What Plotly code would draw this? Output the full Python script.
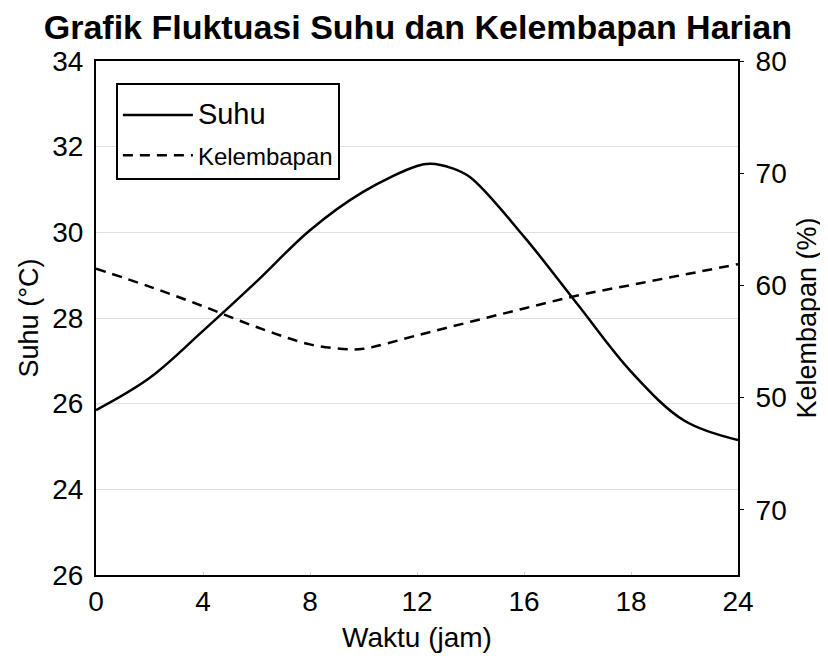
import plotly.graph_objects as go

# --- data ---
hours_suhu = [0, 2, 4, 6, 8, 10, 12, 12.5, 13.3, 14, 16, 18, 20, 22, 24]
suhu = [25.85, 26.6, 27.7, 28.85, 30.05, 30.95, 31.55, 31.6, 31.5, 31.28, 29.9, 28.32, 26.75, 25.6, 25.15]

hours_lembap = [0, 2, 4, 6, 8, 9.5, 10, 12, 14, 16, 18, 20, 22, 24]
lembap = [61.5, 59.9, 58.15, 56.3, 54.75, 54.3, 54.35, 55.55, 56.76, 57.95, 59.1, 60.04, 60.97, 61.9]

x_tickvals = [0, 4, 8, 12, 16, 20, 24]
x_ticktext = ["0", "4", "8", "12", "16", "18", "24"]
y1_tickvals = [34, 32, 30, 28, 26, 24, 22]
y1_ticktext = ["34", "32", "30", "28", "26", "24", "26"]
y2_tickvals = [80, 70, 60, 50, 40]
y2_ticktext = ["80", "70", "60", "50", "70"]

FONT = "Liberation Sans, Arial, sans-serif"

fig = go.Figure()
fig.add_trace(go.Scatter(
    x=hours_suhu, y=suhu, name="<span style='font-size:29px'>Suhu</span>", mode="lines",
    line=dict(color="black", width=2.5, shape="spline", smoothing=1.0),
    legendgroup="a",
))
fig.add_trace(go.Scatter(
    x=hours_lembap, y=lembap, name="Kelembapan", mode="lines", yaxis="y2",
    line=dict(color="black", width=2.5, dash="10px,7px", shape="spline", smoothing=1.0),
    legendgroup="b",
))

fig.update_layout(
    width=828, height=660,
    margin=dict(l=88, r=98, t=53, b=93),
    paper_bgcolor="white", plot_bgcolor="white",
    font=dict(family=FONT, color="black", size=24),
    title=dict(text="<b>Grafik Fluktuasi Suhu dan Kelembapan Harian</b>",
               x=0.495, xanchor="center", yref="container", y=0.971, yanchor="middle",
               font=dict(size=34, family=FONT, color="black")),
    xaxis=dict(range=[0, 24], tickvals=x_tickvals, ticktext=x_ticktext,
               showline=True, linecolor="black", linewidth=2, mirror=True,
               showgrid=False, zeroline=False, ticks="inside", ticklen=3,
               tickcolor="#cccccc",
               tickfont=dict(size=28),
               title=dict(text="Waktu (jam)", standoff=12, font=dict(size=28))),
    yaxis=dict(range=[22, 34], tickvals=y1_tickvals, ticktext=y1_ticktext,
               showline=True, linecolor="black", linewidth=2, mirror=True,
               showgrid=True, gridcolor="#e0e0e0", gridwidth=1, zeroline=False,
               ticks="", tickfont=dict(size=28), ticklabelstandoff=5,
               title=dict(text="Suhu (°C)", standoff=6, font=dict(size=27))),
    yaxis2=dict(range=[34.2, 80], tickvals=y2_tickvals, ticktext=y2_ticktext,
                overlaying="y", side="right", showgrid=False, zeroline=False,
                showline=True, linecolor="black", linewidth=2,
                ticks="outside", ticklen=4, tickcolor="black",
                tickfont=dict(size=28), ticklabelstandoff=6,
                title=dict(text="Kelembapan (%)", standoff=11, font=dict(size=27))),
    legend=dict(x=0.031, y=0.957, xanchor="left", yanchor="top",
                bgcolor="white", bordercolor="black", borderwidth=2,
                traceorder="grouped", tracegroupgap=6,
                title=dict(text=" ", font=dict(size=6)),
                font=dict(size=24, family=FONT), itemwidth=70),
    showlegend=True,
)

fig.write_html("out.html")
